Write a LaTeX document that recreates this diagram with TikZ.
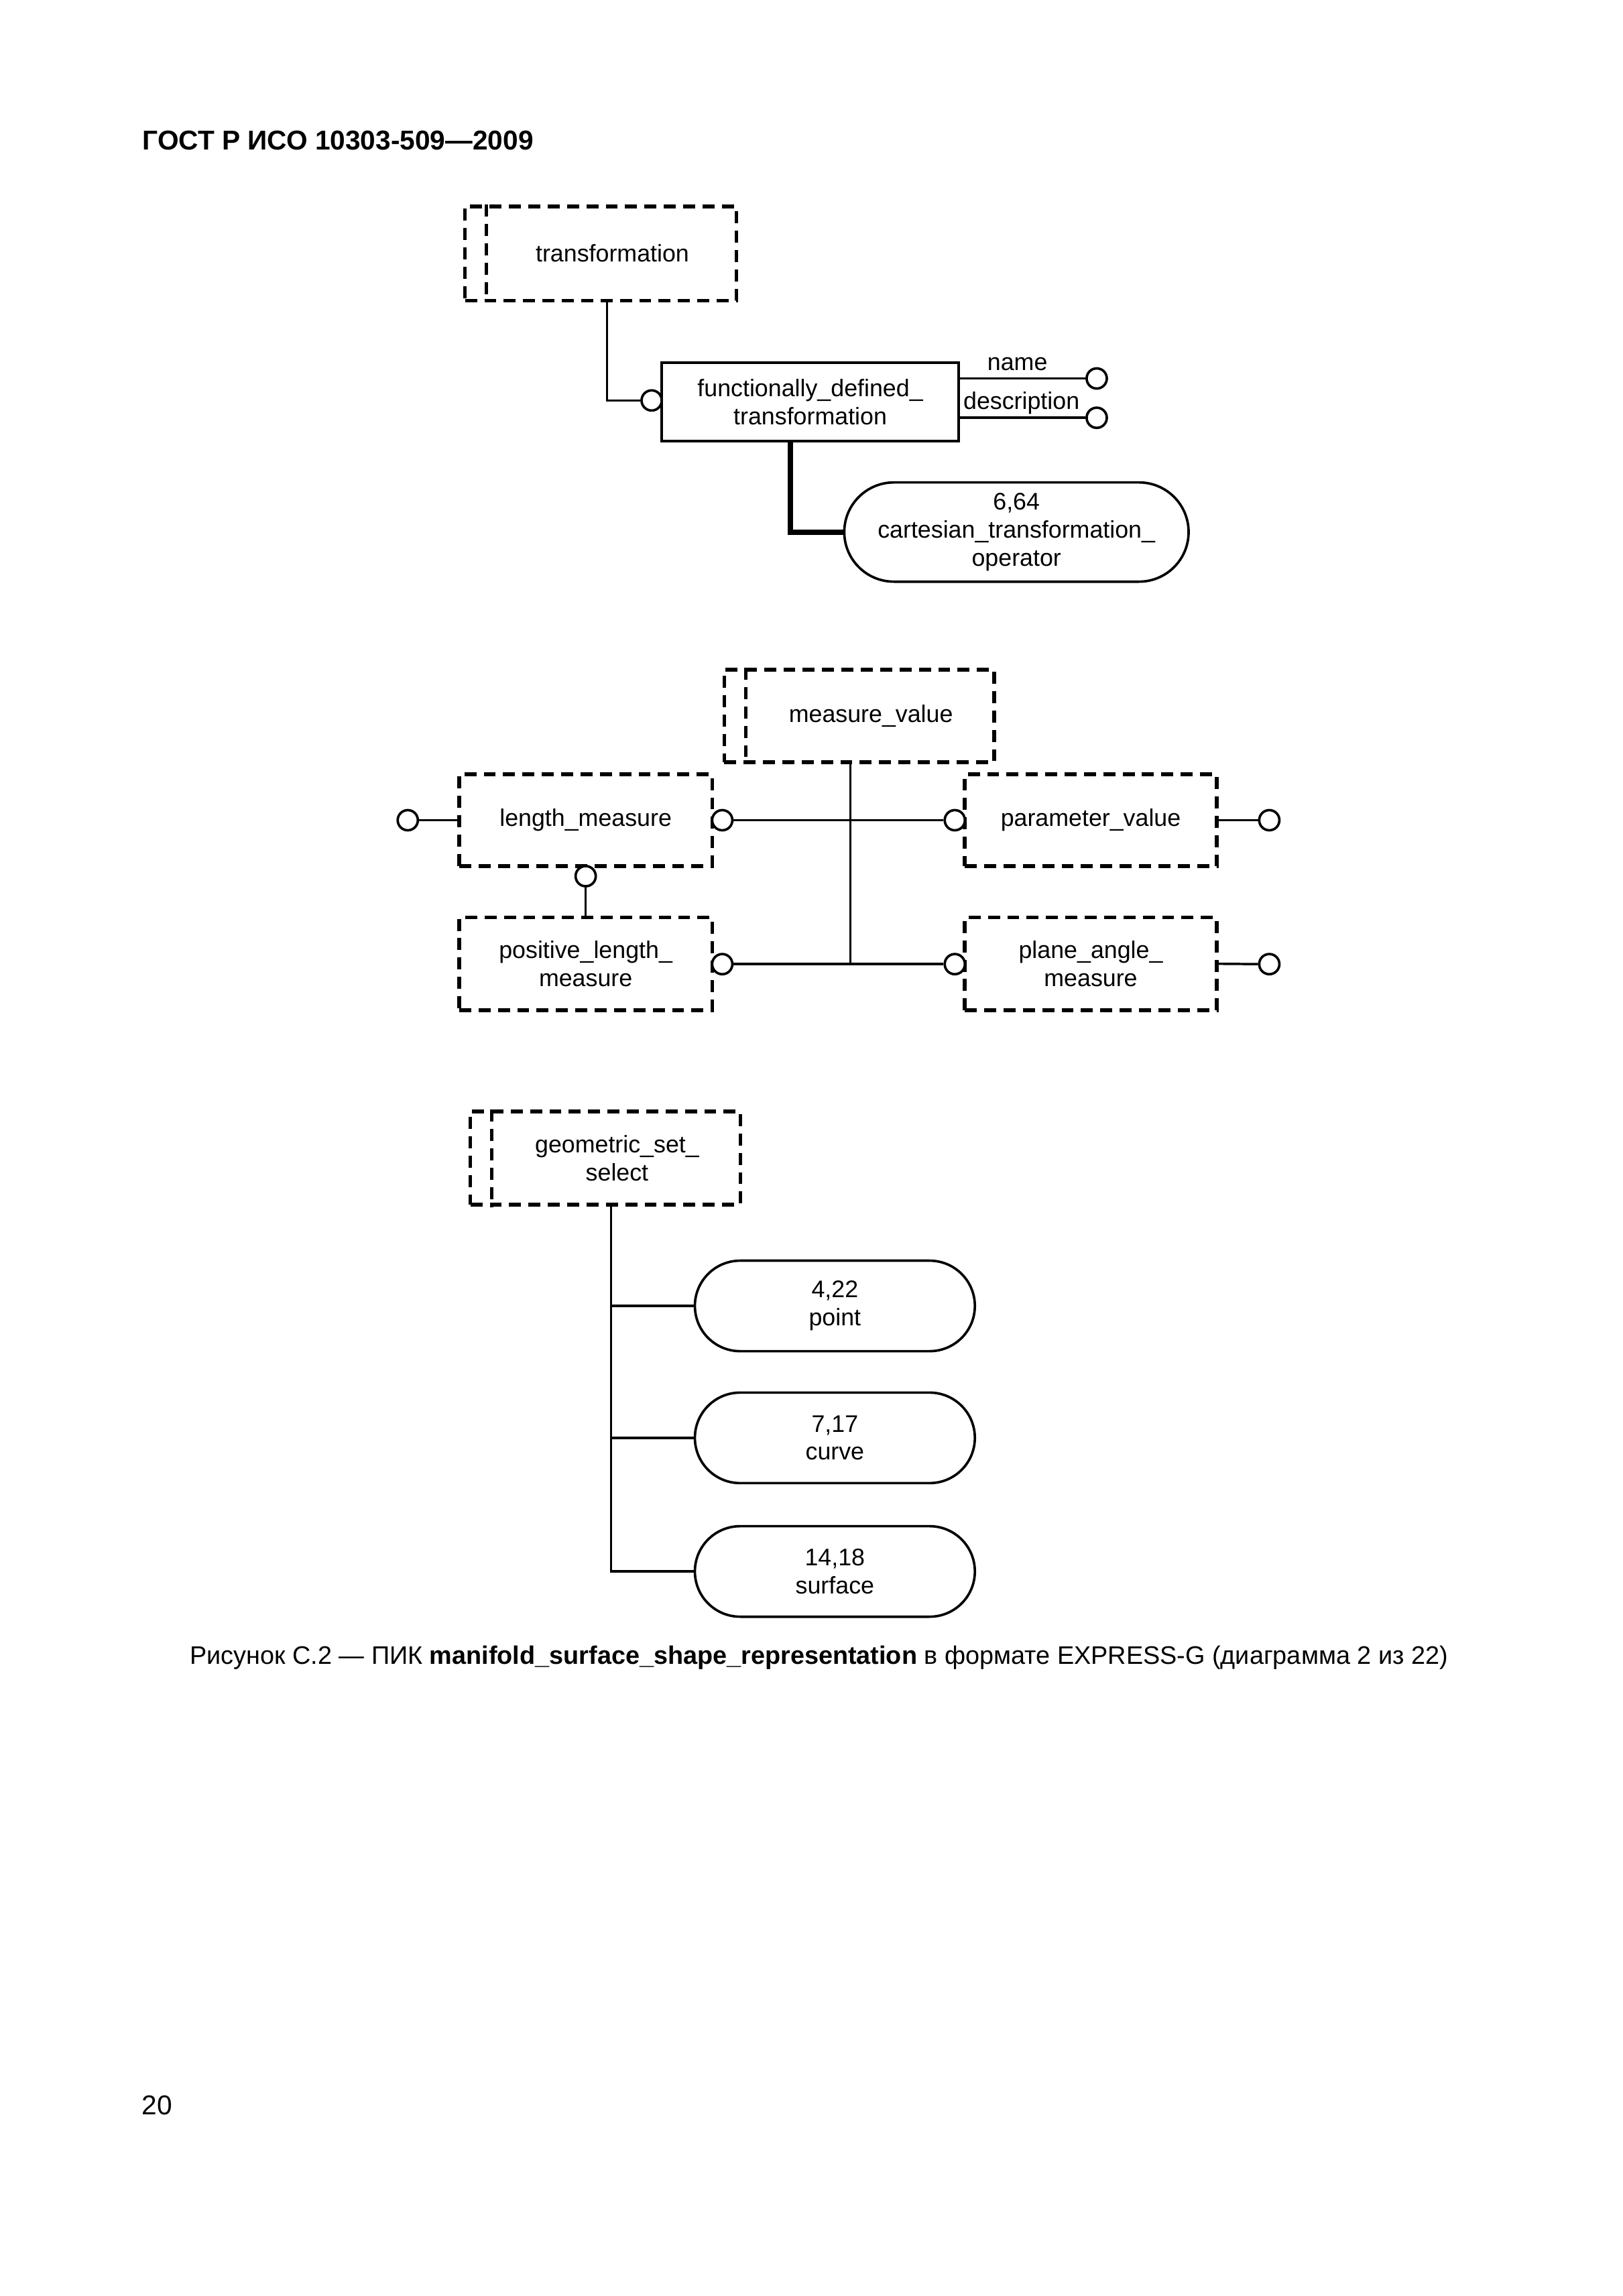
\documentclass[tikz,border=0pt]{standalone}
\usepackage{fontspec}
\setmainfont{Liberation Sans}
\usetikzlibrary{calc}
\tikzset{
 base/.style={font=\fontsize{8.8}{10.3}\selectfont, align=center, inner sep=0pt},
 typebox/.style={base, draw, line width=1.35pt, dash pattern=on 4.4pt off 2.7pt, minimum width=92.8pt, minimum height=33.7pt},
 typeline/.style={line width=1.35pt, dash pattern=on 4.4pt off 2.7pt},
 entbox/.style={base, draw, line width=1pt},
 stad/.style={base, draw, line width=0.9pt, rounded corners=16.6pt, minimum width=102.7pt, minimum height=33.2pt},
 ring/.style={draw, circle, line width=0.9pt, minimum size=7.4pt, inner sep=0pt, fill=white},
 conn/.style={line width=0.85pt},
 boldconn/.style={line width=1.9pt},
 lbl/.style={base}
}
\begin{document}
\begin{tikzpicture}[x=0.2444pt,y=-0.2444pt]
\useasboundingbox (0,0) rectangle (2435.8,3446);
% header
\node[anchor=west, inner sep=0pt, font=\bfseries\fontsize{10}{12}\selectfont] (hdr) at (213,211) {ГОСТ Р ИСО 10303-509—2009};

% ---- top diagram
\node[typebox, minimum width=99.5pt, minimum height=34.5pt] (trans) at (901.5,380.5) {\hspace*{8.6pt}transformation};
\draw[typeline] ($(trans.north west)+(35,0)$) -- ($(trans.south west)+(35,0)$);
\node[entbox, minimum width=109pt, minimum height=28.8pt] (fdt) at (1216,603) {functionally\_defined\_\\transformation};
\node[stad, minimum width=126.3pt, minimum height=36.4pt, rounded corners=18.2pt] (cart) at (1525.5,798.5) {6,64\\cartesian\_transformation\_\\operator};
\node[ring] (c1) at (978,601) {};
\node[ring] (rname) at (1646,568) {};
\node[ring] (rdesc) at (1646,627) {};
\node[lbl] (lname) at (1527,546) {name};
\node[lbl] (ldesc) at (1533,605) {description};
\coordinate (tb) at ($(trans.south)+(9.5,0)$);
\draw[conn] (tb) |- (c1.west);
\draw[conn] (rname.west -| fdt.east) -- (rname.west);
\draw[conn] (rdesc.west -| fdt.east) -- (rdesc.west);
\coordinate (fb) at ($(fdt.south)+(-30,0)$);
\draw[boldconn] (fb) |- (cart.west);

% ---- middle diagram
\node[typebox, minimum width=99pt, minimum height=34pt] (mv) at (1289.5,1074.5) {\hspace*{8.6pt}measure\_value};
\draw[typeline] ($(mv.north west)+(35,0)$) -- ($(mv.south west)+(35,0)$);
\node[typebox] (lm) at (879,1231) {length\_measure};
\node[typebox, minimum width=92.4pt] (pv) at (1637,1231) {parameter\_value};
\node[typebox, minimum height=34pt] (plm) at (879,1446.5) {positive\_length\_\\measure};
\node[typebox, minimum width=92.4pt, minimum height=34pt] (pam) at (1637,1446.5) {plane\_angle\_\\measure};
\node[ring] (rl0) at (612,1231) {};
\node[ring] (rlr) at (1084,1231) {};
\node[ring] (rpl) at (1433,1231) {};
\node[ring] (rpr) at (1905,1231) {};
\node[ring] (rlb) at (879,1315) {};
\node[ring] (rsr) at (1084,1447) {};
\node[ring] (ral) at (1433,1447) {};
\node[ring] (rar) at (1905,1447) {};
\draw[conn] (rl0.east) -- (lm.west);
\draw[conn] (rpr.west) -- (pv.east);
\draw[conn] (rar.west) -- (pam.east);
\draw[conn] (rlb.south) -- (plm.north);
\draw[conn] (rlr.east) -- (rpl.west);
\draw[conn] (rsr.east) -- (ral.west);
\coordinate (mvb) at ($(mv.south)+(-13,0)$);
\draw[conn] (mvb) -- (mvb |- rsr.center);

% ---- bottom diagram
\node[typebox, minimum width=99pt, minimum height=34.2pt] (gss) at (908.5,1738) {\hspace*{8.6pt}geometric\_set\_\\\hspace*{8.6pt}select};
\draw[typeline] ($(gss.north west)+(35,0)$) -- ($(gss.south west)+(35,0)$);
\node[stad] (pt) at (1253,1960) {4,22\\point};
\node[stad] (cv) at (1253,2158) {7,17\\curve};
\node[stad] (sf) at (1253,2358.5) {14,18\\surface};
\coordinate (gb) at ($(gss.south)+(8.5,0)$);
\draw[conn] (gb) |- (sf.west);
\draw[conn] (gb |- pt.west) -- (pt.west);
\draw[conn] (gb |- cv.west) -- (cv.west);

% caption and page number
\node[inner sep=0pt, font=\fontsize{9.3}{11}\selectfont] (cap) at (1229,2488) {Рисунок С.2 — ПИК \textbf{manifold\_surface\_shape\_representation} в формате EXPRESS-G (диаграмма 2 из 22)};
\node[inner sep=0pt, font=\fontsize{10}{12}\selectfont] (pg) at (235.5,3160) {20};
\end{tikzpicture}
\end{document}
